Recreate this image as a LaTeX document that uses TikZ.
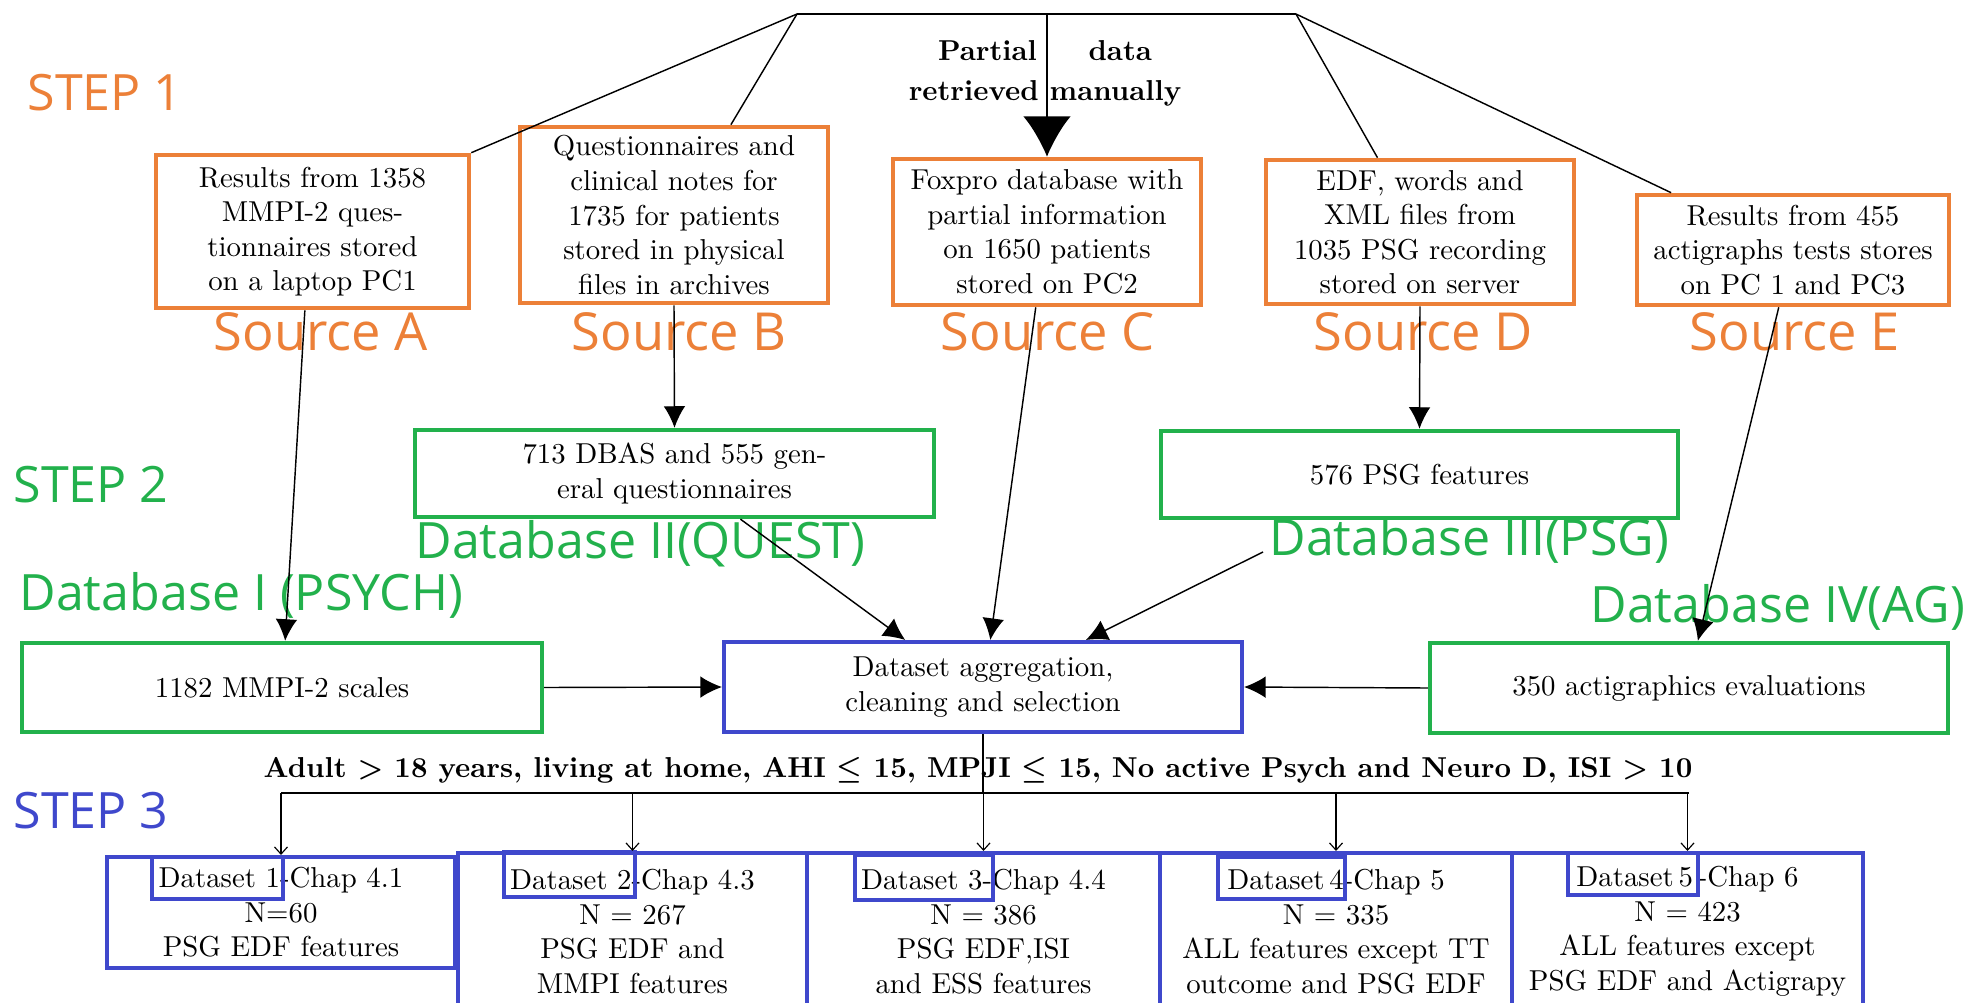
\documentclass[tikz,border=0pt]{standalone}
\usepackage{fontspec}
\newfontfamily\lblfont{Open Sans}
\usetikzlibrary{arrows.meta,calc}
\definecolor{orng}{RGB}{236,128,56}
\definecolor{grn}{RGB}{34,177,76}
\definecolor{blu}{RGB}{63,72,204}
\newcommand{\pxu}{0.34722pt}
\tikzset{
 srcbox/.style={draw=orng, line width=1.6pt, align=center, inner sep=0pt},
 dbbox/.style={draw=grn, line width=1.5pt, align=center, inner sep=0pt},
 setbox/.style={draw=blu, line width=1.4pt, align=center, inner sep=0pt},
 lbl/.style={anchor=base west, inner sep=0pt, font=\lblfont\fontsize{17.4}{20}\selectfont},
 srclbl/.style={lbl, text=orng, font=\lblfont\fontsize{18.2}{20}\selectfont},
 conn/.style={line width=0.5pt},
 arr/.style={conn, -{Latex[length=7.5pt,width=7.5pt]}},
 droparr/.style={line width=0.4pt, -{Straight Barb[length=2.5pt,width=4.5pt]}},
 dsrect/.style={draw=blu, line width=1.4pt}
}
\begin{document}
\begin{tikzpicture}[x=0.34722pt, y=-0.34722pt]
\useasboundingbox (0,0) rectangle (1977,1002);
\fill[white] (0,0) rectangle (1977,1002);
\clip (0,0) rectangle (1977,1002);

% labels
\node[lbl, text=orng] (step1) at (27,110) {STEP 1};
\node[lbl, text=grn] (step2) at (13,502) {STEP 2};
\node[lbl, text=blu] (step3) at (13,828) {STEP 3};
\node[srclbl] (srcA) at (213,350) {Source A};
\node[srclbl] (srcB) at (571,350) {Source B};
\node[srclbl] (srcC) at (940,350) {Source C};
\node[srclbl] (srcD) at (1313,350) {Source D};
\node[srclbl] (srcE) at (1689,350) {Source E};
\node[lbl, text=grn] (lb2) at (415,558) {Database II(QUEST)};
\node[lbl, text=grn] (lb1) at (19,610) {Database I (PSYCH)};
\node[lbl, text=grn] (lb3) at (1269,555) {Database III(PSG)};
\node[lbl, text=grn] (lb4) at (1590,622) {Database IV(AG)};

% source boxes
\node[srcbox, minimum width=313*\pxu, minimum height=153*\pxu] (A) at (312.5,231.5)
  {Results from 1358\\MMPI-2 ques-\\tionnaires stored\\on a laptop PC1};
\node[srcbox, minimum width=308*\pxu, minimum height=176*\pxu] (B) at (674,215)
  {Questionnaires and\\clinical notes for\\1735 for patients\\stored in physical\\files in archives};
\node[srcbox, minimum width=308*\pxu, minimum height=146*\pxu] (C) at (1047,232)
  {Foxpro database with\\partial information\\on 1650 patients\\stored on PC2};
\node[srcbox, minimum width=308*\pxu, minimum height=144*\pxu] (D) at (1420,232)
  {EDF, words and\\XML files from\\1035 PSG recording\\stored on server};
\node[srcbox, minimum width=312*\pxu, minimum height=110*\pxu] (E) at (1793,250)
  {Results from 455\\actigraphs tests stores\\on PC 1 and PC3};

% database boxes
\node[dbbox, minimum width=519*\pxu, minimum height=87*\pxu] (DB2) at (674.5,473.5)
  {713 DBAS and 555 gen-\\eral questionnaires};
\node[dbbox, minimum width=517*\pxu, minimum height=87*\pxu] (DB3) at (1419.5,474.5)
  {576 PSG features};
\node[dbbox, minimum width=520*\pxu, minimum height=89*\pxu] (DB1) at (282,687.5)
  {1182 MMPI-2 scales};
\node[dbbox, minimum width=518*\pxu, minimum height=90*\pxu] (DB4) at (1689,688)
  {350 actigraphics evaluations};
\node[setbox, minimum width=518*\pxu, minimum height=90*\pxu] (AGG) at (983,687)
  {Dataset aggregation,\\cleaning and selection};

% dataset boxes
\node[setbox, minimum width=348*\pxu, minimum height=111*\pxu] (D1) at (281,912.5)
  {Dataset 1-Chap 4.1\\N=60\\PSG EDF features};
\node[setbox, minimum width=349*\pxu, minimum height=157*\pxu] (D2) at (632.5,931.5)
  {Dataset 2-Chap 4.3\\N = 267\\PSG EDF and\\MMPI features};
\node[setbox, minimum width=353*\pxu, minimum height=157*\pxu] (D3) at (983.5,931.5)
  {Dataset 3-Chap 4.4\\N = 386\\PSG EDF,ISI\\and ESS features};
\node[setbox, minimum width=352*\pxu, minimum height=157*\pxu] (D4) at (1336,931.5)
  {Dataset\,4-Chap 5\\N = 335\\ALL features except TT\\outcome and PSG EDF};
\node[setbox, minimum width=351*\pxu, minimum height=157*\pxu] (D5) at (1687.5,931.5)
  {Dataset\,5\,-Chap 6\\N = 423\\ALL features except\\PSG EDF and Actigrapy};
\draw[dsrect] (152,857) rectangle (283,899);
\draw[dsrect] (504,852) rectangle (635,897);
\draw[dsrect] (855,855) rectangle (993,900);
\draw[dsrect] (1218,857) rectangle (1345,899);
\draw[dsrect] (1568,853) rectangle (1698,895);

% texts on connectors
\node[font=\bfseries\fontsize{10}{13.9}\selectfont, align=center, inner sep=0pt] (part) at (1045,73)
  {\makebox[74.3pt]{Partial\hfill data}\\retrieved manually};
\node[anchor=base, inner sep=0pt, font=\bfseries\boldmath] (crit) at (978,777)
  {Adult $>$ 18 years, living at home, AHI $\leq$ 15, MPJI $\leq$ 15, No active Psych and Neuro D, ISI $>$ 10};

% top connectors
\coordinate (TL) at (797,14);
\coordinate (TR) at (1296,14);
\coordinate (TC) at (1047,14);
\draw[line width=0.7pt] (TL) -- (TR);
\draw[conn] (TL) -- (A.north east);
\draw[conn] (TL) -- ($(B.north west)!0.682!(B.north east)$);
\draw[conn] (TR) -- ($(D.north west)!0.364!(D.north east)$);
\draw[conn] (TR) -- ($(E.north west)!0.115!(E.north east)$);
\draw[line width=0.7pt, -{Latex[length=14pt,width=16.5pt]}] (TC) -- (C.north);

% step 1 -> step 2
\draw[arr] ($(A.south west)!0.476!(A.south east)$) -- ($(DB1.north west)!0.506!(DB1.north east)$);
\draw[arr] (B.south) -- (DB2.north);
\draw[arr] ($(C.south west)!0.464!(C.south east)$) -- ($(AGG.north west)!0.514!(AGG.north east)$);
\draw[arr] (D.south) -- (DB3.north);
\draw[arr] ($(E.south west)!0.455!(E.south east)$) -- ($(DB4.north west)!0.517!(DB4.north east)$);
\draw[arr] ($(DB2.south west)!0.626!(DB2.south east)$) -- ($(AGG.north west)!0.351!(AGG.north east)$);
\coordinate (P3) at (1263,552);
\draw[arr] (P3) -- ($(AGG.north west)!0.697!(AGG.north east)$);
\draw[arr] (DB1.east) -- (AGG.west);
\draw[arr] (DB4.west) -- (AGG.east);

% step 3 distribution
\coordinate (H1) at (281,793);
\coordinate (H5) at (1689,793);
\draw[line width=0.7pt] (AGG.south) -- (AGG.south |- H1);
\draw[conn] (H1) -- (H5);
\draw[droparr] (D1.north |- H1) -- (D1.north);
\draw[droparr] (D2.north |- H1) -- (D2.north);
\draw[droparr] (D3.north |- H1) -- (D3.north);
\draw[droparr] (D4.north |- H1) -- (D4.north);
\draw[droparr] (D5.north |- H1) -- (D5.north);
\end{tikzpicture}
\end{document}
